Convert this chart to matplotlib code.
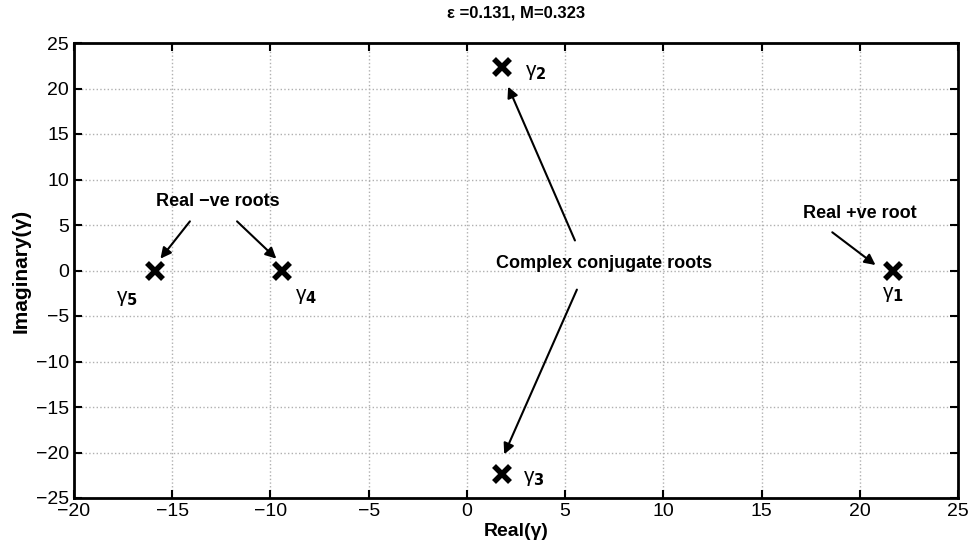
"""Root locations of the dispersion relation in the complex plane."""
import matplotlib
matplotlib.use('Agg')
import matplotlib.pyplot as plt

plt.rcParams['font.family'] = ['Liberation Sans', 'DejaVu Sans']

# roots gamma_1 .. gamma_5
root_re = [21.7, 1.8, 1.8, -9.4, -15.9]
root_im = [0.0, 22.4, -22.4, 0.0, 0.0]
root_names = ['$\\mathregular{\\gamma}_\\mathbf{1}$', '$\\mathregular{\\gamma}_\\mathbf{2}$',
              '$\\mathregular{\\gamma}_\\mathbf{3}$', '$\\mathregular{\\gamma}_\\mathbf{4}$',
              '$\\mathregular{\\gamma}_\\mathbf{5}$']
# label positions (data units) for each root name
name_pos = [(21.7, -2.6), (3.5, 21.8), (3.4, -22.9), (-8.2, -2.9), (-17.3, -3.1)]

xticks = list(range(-20, 30, 5))
yticks = list(range(-25, 30, 5))

fig = plt.figure(figsize=(9.71, 5.45), dpi=100)
ax = fig.add_axes([74 / 971, 47 / 545, 884 / 971, 455 / 545])

ax.plot(root_re, root_im, 'kx', markersize=11, mew=4, linestyle='none')
for (tx, ty), name in zip(name_pos, root_names):
    ax.text(tx, ty, name, fontsize=15, ha='center', va='center')

ax.set_xlim(-20, 25)
ax.set_ylim(-25, 25)
ax.set_xticks(xticks)
ax.set_yticks(yticks)
ax.tick_params(direction='in', length=6, width=1.5, labelsize=14,
               top=True, right=True)
for sp in ax.spines.values():
    sp.set_linewidth(2)
ax.grid(True, linestyle=':', color='#b0b0b0', linewidth=1)

arrow = dict(arrowstyle='-|>', color='black', lw=1.5, mutation_scale=16,
             shrinkA=0, shrinkB=0)
# negative real roots
ax.text(-12.7, 7.6, 'Real \u2212ve roots', fontsize=13, fontweight='bold',
        ha='center', va='center')
ax.annotate('', xy=(-15.6, 1.3), xytext=(-14.1, 5.4), arrowprops=arrow)
ax.annotate('', xy=(-9.7, 1.3), xytext=(-11.7, 5.4), arrowprops=arrow)
# complex pair
ax.text(7.0, 0.8, 'Complex conjugate roots', fontsize=13, fontweight='bold',
        ha='center', va='center')
ax.annotate('', xy=(2.1, 20.2), xytext=(5.5, 3.3), arrowprops=arrow)
ax.annotate('', xy=(1.9, -20.2), xytext=(5.6, -2.1), arrowprops=arrow)
# positive real root
ax.text(20.0, 6.3, 'Real +ve root', fontsize=13, fontweight='bold',
        ha='center', va='center')
ax.annotate('', xy=(20.8, 0.6), xytext=(18.6, 4.2), arrowprops=arrow)

ax.set_title('\u03b5 =0.131, M=0.323', fontsize=12, fontweight='bold', pad=18)
ax.set_xlabel('Real(\u03b3)', fontsize=14, fontweight='bold', labelpad=2)
ax.set_ylabel('Imaginary(\u03b3)', fontsize=15, fontweight='bold', labelpad=4)

fig.savefig('out.png', dpi=100)
